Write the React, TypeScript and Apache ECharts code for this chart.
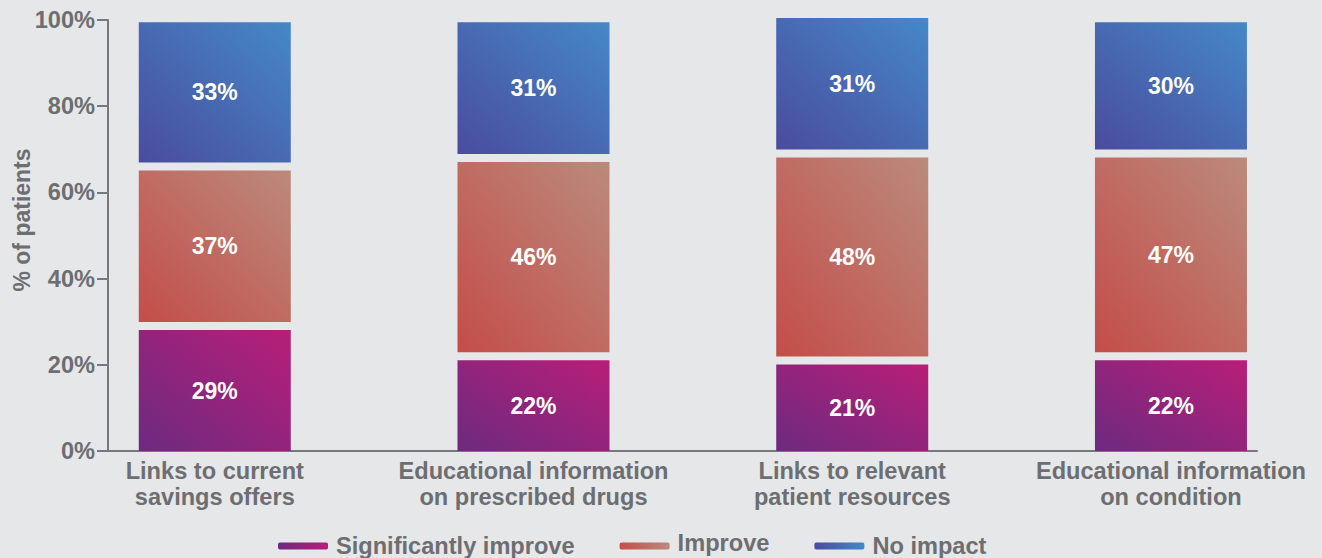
import React, { useEffect, useRef } from 'react';
import * as echarts from 'echarts';

const categories = [
  'Links to current\nsavings offers',
  'Educational information\non prescribed drugs',
  'Links to relevant\npatient resources',
  'Educational information\non condition',
];
const categoryPositions = [0, 1, 2, 3];
const seriesNames = ['Significantly improve', 'Improve', 'No impact'];
const significantlyImprove = [29, 22, 21, 22];
const improve = [37, 46, 48, 47];
const noImpact = [33, 31, 31, 30];
const yTicks = [0, 20, 40, 60, 80, 100];

const BG = '#e6e7e9';
const GREY = '#6d6e71';
const AXIS = '#77787b';
const FONT = '"Liberation Sans", Arial, Helvetica, sans-serif';

const barGradients: string[][] = [
  ['#6c2a80', '#b81e78'],
  ['#c44d49', '#bb8a7c'],
  ['#4a4c9e', '#4588c8'],
];

export default function App() {
  const ref = useRef<HTMLDivElement>(null);
  useEffect(() => {
    document.body.style.margin = '0';
    document.body.style.background = BG;
    const chart = echarts.init(ref.current as HTMLDivElement, null, { renderer: 'svg' });
    const stacks = [significantlyImprove, improve, noImpact];

    const series = stacks.map((vals, si) => {
      const data = vals.map((v, ci) => {
        let lo = 0;
        for (let k = 0; k < si; k++) lo += stacks[k][ci];
        return [categoryPositions[ci], lo, lo + v, v];
      });
      const isTop = si === stacks.length - 1;
      const [c0, c1] = barGradients[si];
      return {
        type: 'custom',
        name: seriesNames[si],
        clip: false,
        itemStyle: {
          color: new echarts.graphic.LinearGradient(0, 0, 1, 0, [
            { offset: 0, color: c0 },
            { offset: 1, color: c1 },
          ]),
        },
        encode: { x: 0, y: [1, 2] },
        data,
        renderItem: (_params: any, api: any) => {
          const c = api.value(0);
          const lo = api.value(1);
          const hi = api.value(2);
          const v = api.value(3);
          const p0 = api.coord([c, lo]);
          const p1 = api.coord([c, hi]);
          const w = 152;
          const gb = lo > 0 ? 4 : 0;
          const gt = isTop ? -2 : 4;
          const y = p1[1] + gt;
          const h = p0[1] - gb - y;
          return {
            type: 'group',
            children: [
              {
                type: 'rect',
                shape: { x: p0[0] - w / 2, y, width: w, height: h },
                style: {
                  fill: new echarts.graphic.LinearGradient(0, 1, 1, 0, [
                    { offset: 0, color: c0 },
                    { offset: 1, color: c1 },
                  ]),
                },
              },
              {
                type: 'text',
                x: p0[0],
                y: y + h / 2,
                style: {
                  text: v + '%',
                  fill: '#ffffff',
                  fontSize: 23,
                  fontWeight: 'bold',
                  fontFamily: FONT,
                  align: 'center',
                  verticalAlign: 'middle',
                },
              },
            ],
          };
        },
      };
    });

    chart.setOption({
      animation: false,
      backgroundColor: BG,
      grid: { left: 108, right: 65, top: 20, bottom: 107 },
      xAxis: {
        type: 'value',
        min: -0.335,
        max: 3.27,
        axisLine: { show: true, onZero: false, lineStyle: { color: AXIS, width: 2 } },
        axisTick: { show: false },
        splitLine: { show: false },
        axisLabel: {
          customValues: categoryPositions,
          formatter: (v: number) => categories[Math.round(v)] ?? '',
          color: GREY,
          fontSize: 23.6,
          fontWeight: 'bold',
          fontFamily: FONT,
          lineHeight: 26,
          margin: 7,
          showMinLabel: true,
          showMaxLabel: true,
        },
      },
      yAxis: {
        type: 'value',
        min: yTicks[0],
        max: yTicks[yTicks.length - 1],
        interval: 20,
        axisLine: { show: true, onZero: false, lineStyle: { color: AXIS, width: 2 } },
        axisTick: { show: true, length: 11, lineStyle: { color: AXIS, width: 2 } },
        axisLabel: {
          formatter: '{value}%',
          color: GREY,
          fontSize: 23.6,
          fontWeight: 'bold',
          fontFamily: FONT,
          margin: 13,
        },
        splitLine: { show: false },
      },
      legend: {
        left: 273,
        top: 526,
        icon: 'roundRect',
        itemWidth: 50,
        itemHeight: 7,
        itemGap: 45,
        selectedMode: false,
        formatter: (name: string) =>
          name === seriesNames[1] ? '{up|' + name + '}' : '{a|' + name + '}',
        textStyle: {
          color: GREY,
          fontSize: 23.6,
          fontWeight: 'bold',
          fontFamily: FONT,
          rich: {
            a: {
              color: GREY,
              fontSize: 23.6,
              fontWeight: 'bold',
              fontFamily: FONT,
              padding: [0, 0, 0, 3],
            },
            up: {
              color: GREY,
              fontSize: 23.6,
              fontWeight: 'bold',
              fontFamily: FONT,
              padding: [0, 0, 6, 3],
            },
          },
        },
        data: seriesNames,
      },
      graphic: [
        {
          type: 'text',
          x: 22,
          y: 220,
          rotation: Math.PI / 2,
          style: {
            text: '% of patients',
            fill: GREY,
            fontSize: 23,
            fontWeight: 'bold',
            fontFamily: FONT,
            align: 'center',
            verticalAlign: 'middle',
          },
        },
      ],
      series,
    });
    return () => chart.dispose();
  }, []);
  return (
    <div
      ref={ref}
      style={{ position: 'fixed', left: 0, top: 0, width: 1322, height: 558, background: BG }}
    />
  );
}
